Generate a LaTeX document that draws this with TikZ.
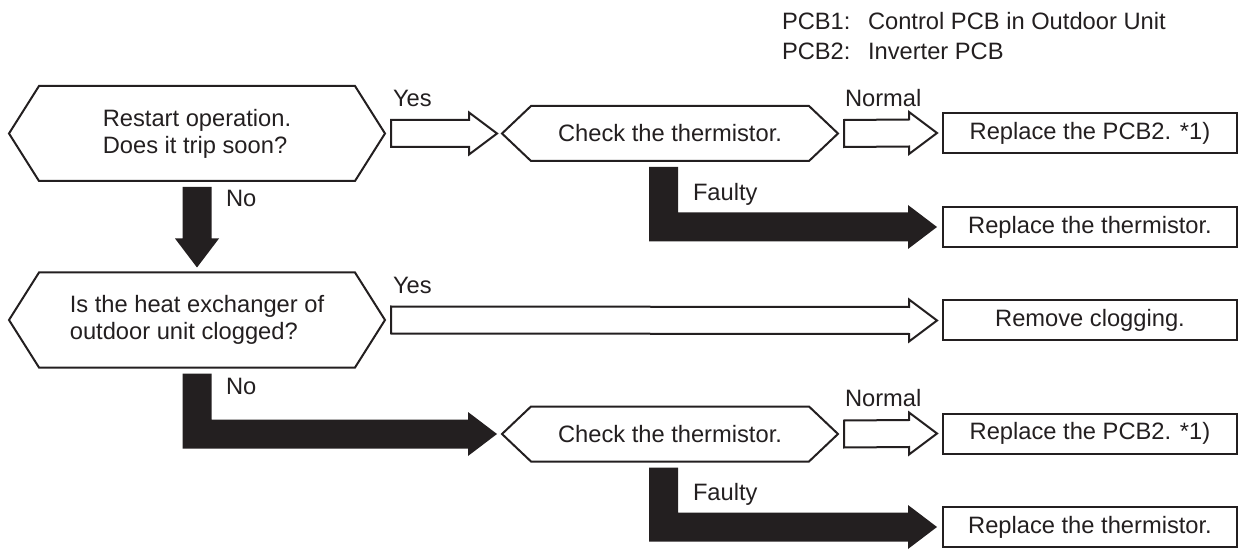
\documentclass[tikz,border=0pt]{standalone}
\usepackage{fontspec}
\setmainfont{Liberation Sans}
\usetikzlibrary{calc}
\definecolor{ink}{HTML}{231F20}
\tikzset{
  txt/.style={font=\fontsize{11.85}{13.6}\selectfont, text=ink},
  lbl/.style={txt, inner sep=0pt, anchor=base west},
  quest/.style={txt, align=left, inner sep=0pt, minimum width=187pt, minimum height=46.5pt},
  check/.style={txt, align=center, inner sep=0pt, minimum width=167pt, minimum height=26.5pt},
  result/.style={txt, draw=ink, inner sep=0pt, minimum width=147pt, minimum height=20pt},
  hexline/.style={draw=ink, line join=miter},
  hollow/.style={draw=ink, fill=white, line join=miter},
  solid arrow/.style={fill=ink, draw=none}
}
\begin{document}
\begin{tikzpicture}[x=0.5pt, y=-0.5pt, line width=1pt]
    \useasboundingbox (0,0) rectangle (1239,551);
    % Legend
    \node[lbl] (pcb1) at (781,29.3) {PCB1:};
    \node[lbl] (pcb1d) at (867,29.3) {Control PCB in Outdoor Unit};
    \node[lbl] (pcb2) at (781,59.3) {PCB2:};
    \node[lbl] (pcb2d) at (867,59.3) {Inverter PCB};
    % Questions and checks
    \node[quest] (q1) at (197,133.5) {Restart operation.\\Does it trip soon?};
    \node[quest] (q2) at (197,320) {Is the heat exchanger of\\outdoor unit clogged?};
    \node[check] (c1) at (670,133.5) {Check the thermistor.};
    \node[check] (c2) at (670,434) {Check the thermistor.};
    % Results
    \node[result] (r1) at (1090,133) {Replace the PCB2. *1)};
    \node[result] (t1) at (1090,227) {Replace the thermistor.};
    \node[result] (rc) at (1090,320.5) {Remove clogging.};
    \node[result] (r2) at (1090,433.5) {Replace the PCB2. *1)};
    \node[result] (t2) at (1090,527) {Replace the thermistor.};
    % Hexagon outlines
    \foreach \n/\d in {q1/30, q2/30, c1/29, c2/29}
      \draw[hexline] (\n.west) -- ($(\n.north west)+(\d,0)$) -- ($(\n.north east)-(\d,0)$)
        -- (\n.east) -- ($(\n.south east)-(\d,0)$) -- ($(\n.south west)+(\d,0)$) -- cycle;
    % Hollow arrows (Yes / Normal)
    \foreach \a/\b in {q1/c1, c1/r1, q2/rc, c2/r2} {
      \coordinate (s) at ($(\a.east)+(6,0)$);
      \coordinate (t) at ($(\b.west)-(5,0)$);
      \draw[hollow] ($(s)+(0,-13.5)$) -- ($(t)+(-28,-13.5)$) -- ($(t)+(-28,-21)$) -- (t)
        -- ($(t)+(-28,21)$) -- ($(t)+(-28,13.5)$) -- ($(s)+(0,13.5)$) -- cycle;
    }
    % Solid arrow down (No)
    \coordinate (s) at ($(q1.south)+(0,6)$);
    \coordinate (t) at ($(q2.north)-(0,5)$);
    \fill[solid arrow] ($(s)+(-14.5,0)$) -- ($(s)+(14.5,0)$) -- ($(t)+(14.5,-29)$) -- ($(t)+(22,-29)$)
      -- (t) -- ($(t)+(-22,-29)$) -- ($(t)+(-14.5,-29)$) -- cycle;
    % Solid bent arrows (No / Faulty)
    \foreach \a/\b/\dx in {q2/c2/0, c1/t1/-6.5, c2/t2/-6.5} {
      \coordinate (s) at ($(\a.south)+(\dx,6)$);
      \coordinate (t) at ($(\b.west)-(5,0)$);
      \coordinate (k) at (s |- t);
      \fill[solid arrow] ($(s)+(-14.5,0)$) -- ($(s)+(14.5,0)$) -- ($(k)+(14.5,-14.5)$)
        -- ($(t)+(-29,-14.5)$) -- ($(t)+(-29,-22)$) -- (t) -- ($(t)+(-29,22)$)
        -- ($(t)+(-29,14.5)$) -- ($(k)+(-14.5,14.5)$) -- cycle;
    }
    % Branch labels
    \node[lbl] (yes1) at (392,107) {Yes};
    \node[lbl] (yes2) at (392,293) {Yes};
    \node[lbl] (no1) at (225,206.5) {No};
    \node[lbl] (no2) at (225,394) {No};
    \node[lbl] (nor1) at (844,107) {Normal};
    \node[lbl] (nor2) at (844,407) {Normal};
    \node[lbl] (flt1) at (692,200.5) {Faulty};
    \node[lbl] (flt2) at (692,500.5) {Faulty};
\end{tikzpicture}
\end{document}
